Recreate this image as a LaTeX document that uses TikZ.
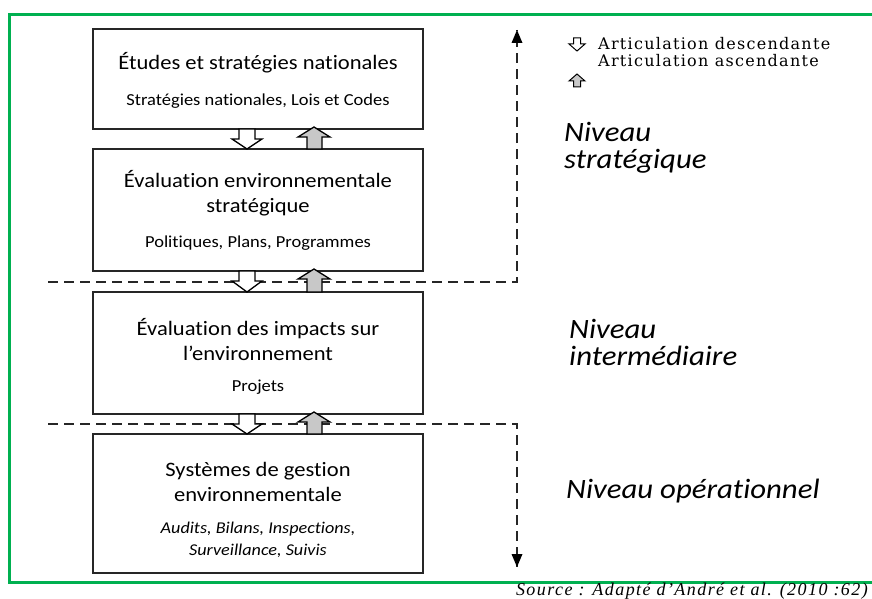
\documentclass[tikz,border=0pt]{standalone}
\usepackage{fontspec}
\setmainfont{Carlito}[Ligatures=NoCommon,FakeStretch=1.1]
\newfontfamily\legendfont{DejaVu Serif}[LetterSpace=8]
\newfontfamily\sourcefont{Liberation Serif}[LetterSpace=8]
\usetikzlibrary{arrows.meta,calc}
\definecolor{framegreen}{RGB}{0,176,80}
\definecolor{arrowgray}{RGB}{200,200,200}
\begin{document}
\begin{tikzpicture}[x=1pt,y=-1pt,
  levelbox/.style={draw=black!85,line width=1.8pt,minimum width=330pt,inner sep=0pt},
  boxtitle/.style={font=\fontsize{20.5}{25}\selectfont,align=center,inner sep=0pt},
  boxsub/.style={font=\fontsize{16.8}{22}\selectfont,align=center,inner sep=0pt},
  leveltext/.style={font=\fontsize{28}{27}\selectfont\itshape,align=left,anchor=west,inner sep=0pt},
  levelsep/.style={dashed,dash pattern=on 10pt off 6pt,line width=1.3pt,black!85},
  down/.style={draw=black,line width=1.3pt,fill=white,line join=miter},
  up/.style={draw=black,line width=1.3pt,fill=arrowgray,line join=miter},
  legend/.style={font=\legendfont\fontsize{16}{17}\selectfont,anchor=west,inner sep=0pt}]
\useasboundingbox (0,0) rectangle (872,599);

% outer green frame (open on the right)
\draw[framegreen,line width=3pt] (872,15) -- (9.5,15) -- (9.5,582.5) -- (872,582.5);

% the four level boxes
\node[levelbox,minimum height=100pt] (b1) at (258,79) {};
\node[levelbox,minimum height=122pt] (b2) at (258,210) {};
\node[levelbox,minimum height=122pt] (b3) at (258,353) {};
\node[levelbox,minimum height=139pt] (b4) at (258,503.5) {};

% texts of the boxes
\node[boxtitle] (t1) at (258,63) {Études et stratégies nationales};
\node[boxsub] (s1) at (258,101) {Stratégies nationales, Lois et Codes};
\node[boxtitle] (t2) at (258,193) {Évaluation environnementale\\stratégique};
\node[boxsub] (s2) at (258,243) {Politiques, Plans, Programmes};
\node[boxtitle] (t3) at (258,340) {Évaluation des impacts sur\\l’environnement};
\node[boxsub] (s3) at (258,387) {Projets};
\node[boxtitle] (t4) at (258,482) {Systèmes de gestion\\environnementale};
\node[boxsub,font=\fontsize{16.5}{22}\selectfont\itshape] (s4) at (258,540) {Audits, Bilans, Inspections,\\Surveillance, Suivis};

% level separators and level extents
\coordinate (sepA) at (48,282);
\coordinate (cornerA) at (517,282);
\coordinate (topA) at (517,30);
\coordinate (sepB) at (48,424);
\coordinate (cornerB) at (517,424);
\coordinate (botB) at (517,567);
\draw[levelsep] (sepA) -- (cornerA) -- (topA);
\draw[levelsep] (sepB) -- (cornerB) -- (botB);
\fill (topA) ++(-5.5,13) -- (topA) -- ++(5.5,13) -- cycle;
\fill (botB) ++(-5.5,-13) -- (botB) -- ++(5.5,-13) -- cycle;

% block arrows between the boxes
\foreach \ya/\yb in {129/149, 271/292, 414/434} {
  \draw[down] (239,\ya) -- (255,\ya) -- (255,\ya+10) -- (262,\ya+10)
     -- (247,\yb) -- (232,\ya+10) -- (239,\ya+10) -- cycle;
  \draw[up] (307,\yb) -- (322,\yb) -- (322,\ya+8) -- (330,\ya+8)
     -- (314,\ya-2) -- (298,\ya+8) -- (307,\ya+8) -- cycle;
}

% level names
\node[leveltext] (n1) at (564,148) {Niveau\\stratégique};
\node[leveltext] (n2) at (569,342) {Niveau\\intermédiaire};
\node[leveltext] (n3) at (566,491) {Niveau opérationnel};

% legend
\draw[down,line width=1pt] (573.5,38) -- (580.5,38) -- (580.5,44) -- (585,44)
   -- (577,51) -- (569,44) -- (573.5,44) -- cycle;
\draw[up,line width=1pt] (573.5,87) -- (580.5,87) -- (580.5,81) -- (585,81)
   -- (577,74) -- (569,81) -- (573.5,81) -- cycle;
\node[legend] (l1) at (598,44) {Articulation descendante};
\node[legend] (l2) at (598,61) {Articulation ascendante};

% source line
\node[font=\sourcefont\fontsize{18}{20}\selectfont\itshape,anchor=east,inner sep=0pt] (src) at (868,591) {Source : Adapté d’André et al. (2010 :62)};
\end{tikzpicture}
\end{document}
